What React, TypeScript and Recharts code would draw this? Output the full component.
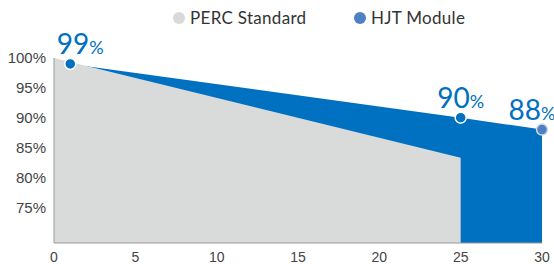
import { ComposedChart, Area, Line, XAxis, YAxis, LabelList } from 'recharts';

const years = [0, 1, 25, 30];
const percStandard = [100, null, 83.3, null];
const hjtModule = [null, 99, 90, 88];
const xTicks = [0, 5, 10, 15, 20, 25, 30];
const yTicks = [75, 80, 85, 90, 95, 100];

const data = years.map((year, i) => ({ year, perc: percStandard[i], hjt: hjtModule[i] }));

const BLUE = '#0070c0';
const GRAY = '#d9dada';

const labelShift: Record<number, number> = { 1: 10, 25: 0, 30: -10 };

function HjtDot(props: any) {
  const { cx, cy, payload } = props;
  if (payload.hjt == null) return null;
  const last = payload.year === 30;
  return (
    <circle
      key={`dot-${payload.year}`}
      cx={cx}
      cy={cy}
      r={5.5}
      fill={last ? '#4f80c6' : BLUE}
      stroke={last ? '#d0d8e6' : '#ffffff'}
      strokeWidth={1.5}
    />
  );
}

function PercentLabel(props: any) {
  const { x, y, value, index } = props;
  if (value == null) return null;
  const dx = labelShift[years[index]] ?? 0;
  return (
    <text x={x + dx} y={y - 10} textAnchor="middle" fill={BLUE} fontFamily="Lato, sans-serif">
      <tspan fontSize={28}>{value}</tspan>
      <tspan fontSize={18}>%</tspan>
    </text>
  );
}

function TopLegend() {
  const item = (color: string, text: string, left: number) => (
    <div style={{ position: 'absolute', left, top: 0, display: 'flex', alignItems: 'center' }}>
      <span style={{ width: 12, height: 12, borderRadius: '50%', background: color, display: 'inline-block', marginRight: 5 }} />
      <span style={{ fontSize: 17, color: '#333', fontFamily: 'Lato, sans-serif', letterSpacing: 0.3 }}>{text}</span>
    </div>
  );
  return (
    <div style={{ position: 'absolute', left: 0, top: 7, width: 554, height: 24 }}>
      {item('#d9d9d9', 'PERC Standard', 173)}
      {item('#4f80c6', 'HJT Module', 354)}
    </div>
  );
}

export default function App() {
  return (
    <div style={{ position: 'absolute', left: 0, top: 0, width: 554, height: 264, background: '#fff' }}>
      <ComposedChart width={554} height={264} data={data} margin={{ top: 58, right: 12, bottom: 0, left: 0 }}>
        <XAxis
          dataKey="year"
          type="number"
          domain={[0, 30]}
          ticks={xTicks}
          tickLine={false}
          tickSize={0}
          tickMargin={9}
          height={21}
          axisLine={{ stroke: '#9a9a9a' }}
          tick={{ fill: '#444', fontSize: 14, fontFamily: 'Liberation Sans, Arial, sans-serif' }}
        />
        <YAxis
          type="number"
          domain={[69, 100]}
          ticks={yTicks}
          tickFormatter={(v) => `${v}%`}
          tickLine={false}
          tickSize={0}
          tickMargin={8}
          width={54}
          axisLine={{ stroke: '#9a9a9a' }}
          tick={{ fill: '#444', fontSize: 15, fontFamily: 'Liberation Sans, Arial, sans-serif' }}
        />
        <Area
          dataKey="hjt"
          name="HJT Module"
          type="linear"
          connectNulls
          stroke="none"
          fill={BLUE}
          fillOpacity={1}
          dot={false}
          activeDot={false}
          isAnimationActive={false}
        />
        <Area
          dataKey="perc"
          name="PERC Standard"
          type="linear"
          connectNulls
          stroke="none"
          fill={GRAY}
          fillOpacity={1}
          dot={false}
          activeDot={false}
          isAnimationActive={false}
        />
        <Line
          dataKey="hjt"
          legendType="none"
          type="linear"
          connectNulls
          stroke="none"
          dot={<HjtDot />}
          activeDot={false}
          isAnimationActive={false}
        >
          <LabelList dataKey="hjt" content={<PercentLabel />} />
        </Line>
      </ComposedChart>
      <TopLegend />
    </div>
  );
}
